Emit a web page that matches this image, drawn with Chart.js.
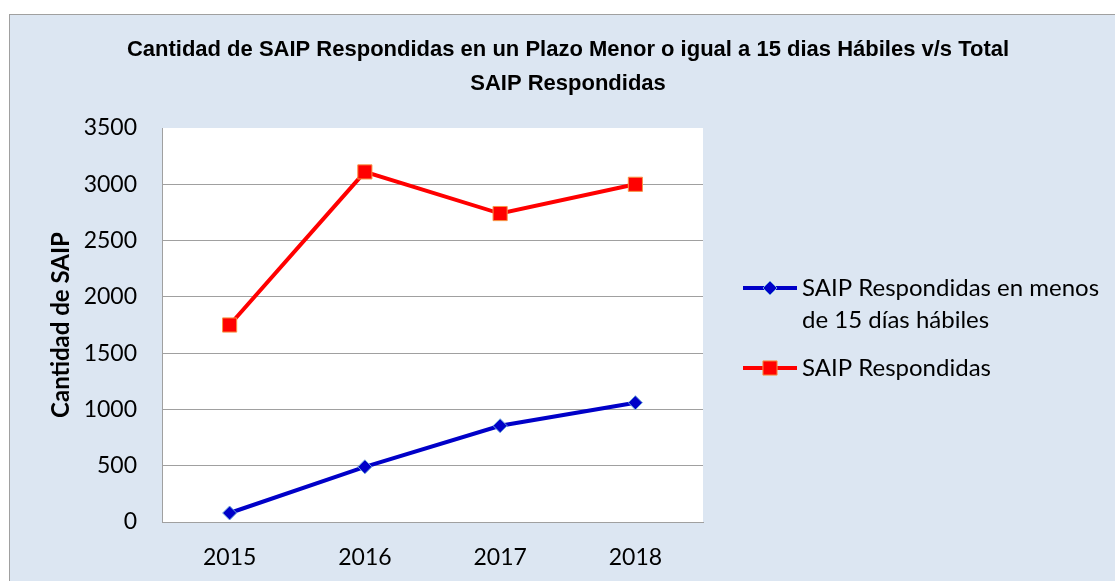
<!DOCTYPE html>
<html>
<head>
<meta charset="utf-8">
<script src="https://cdn.jsdelivr.net/npm/chart.js@4/dist/chart.umd.min.js"></script>
<style>
  html, body { margin: 0; padding: 0; background: #ffffff; }
  #wrap { position: relative; width: 1115px; height: 581px; }
</style>
</head>
<body>
<div id="wrap"><canvas id="Graph" width="1115" height="581"></canvas></div>
<script>
const years = ["2015", "2016", "2017", "2018"];
const respondidasMenos15 = [80, 490, 855, 1060];
const respondidasTotal = [1750, 3110, 2740, 3000];
const seriesNames = [
    ["SAIP Respondidas en menos", "de 15 días hábiles"],
    ["SAIP Respondidas"]
];
const titleLines = [
    "Cantidad de SAIP Respondidas en un Plazo Menor o igual a 15 dias Hábiles v/s Total",
    "SAIP Respondidas"
];
const yTicks = [0, 500, 1000, 1500, 2000, 2500, 3000, 3500];

const bgBlue = "#dce6f2";
const gridGray = "#a0a0a0";
const tickFont = "Lato, 'Open Sans', sans-serif";

// background, frame, white plot area and the title
const frame = {
    id: "frame",
    beforeDraw(chart) {
        const ctx = chart.ctx;
        const a = chart.chartArea;
        ctx.save();
        ctx.fillStyle = "#ffffff";
        ctx.fillRect(0, 0, chart.width, chart.height);
        ctx.fillStyle = bgBlue;
        ctx.fillRect(9, 14, chart.width, chart.height);
        ctx.strokeStyle = gridGray;
        ctx.lineWidth = 1;
        ctx.strokeRect(9.5, 14.5, chart.width + 10, chart.height + 10);
        ctx.fillStyle = "#ffffff";
        ctx.fillRect(a.left, a.top, a.right - a.left, a.bottom - a.top);

        ctx.fillStyle = "#000000";
        ctx.font = "bold 22px 'Liberation Sans Narrow', 'Liberation Sans', Arial, sans-serif";
        ctx.textAlign = "center";
        ctx.textBaseline = "middle";
        titleLines.forEach((t, i) => ctx.fillText(t, 568, 50 + i * 34));
        ctx.restore();
    }
};

// legend on the right, with wrapped text
const sideLegend = {
    id: "sideLegend",
    afterDraw(chart) {
        const ctx = chart.ctx;
        const rows = [288, 368];
        ctx.save();
        chart.data.datasets.forEach((ds, i) => {
            const y = rows[i];
            ctx.strokeStyle = ds.borderColor;
            ctx.lineWidth = 4;
            ctx.beginPath();
            ctx.moveTo(743, y);
            ctx.lineTo(797, y);
            ctx.stroke();
            ctx.fillStyle = ds.pointBackgroundColor;
            ctx.strokeStyle = ds.pointBorderColor;
            ctx.lineWidth = 1;
            Chart.helpers.drawPoint(ctx, {
                pointStyle: ds.pointStyle,
                radius: ds.pointRadius,
                borderWidth: 1,
                rotation: 0
            }, 770, y);
            ctx.fillStyle = "#000000";
            ctx.font = "24px " + tickFont;
            ctx.textAlign = "left";
            ctx.textBaseline = "middle";
            seriesNames[i].forEach((line, j) => ctx.fillText(line, 802, y + j * 32));
        });
        ctx.restore();
    }
};

new Chart("Graph", {
    type: "line",
    data: {
        labels: years,
        datasets: [
            {
                label: seriesNames[0].join(" "),
                data: respondidasMenos15,
                borderColor: "#0000c8",
                borderWidth: 4,
                pointStyle: "rectRot",
                pointRadius: 7,
                pointBackgroundColor: "#0000c8",
                pointBorderColor: "#6fa8dc",
                pointBorderWidth: 1,
                tension: 0
            },
            {
                label: seriesNames[1].join(" "),
                data: respondidasTotal,
                borderColor: "#ff0000",
                borderWidth: 4,
                pointStyle: "rect",
                pointRadius: 10,
                pointBackgroundColor: "#ff0000",
                pointBorderColor: "#f79646",
                pointBorderWidth: 1,
                tension: 0
            }
        ]
    },
    options: {
        responsive: false,
        animation: false,
        layout: { padding: { top: 128, right: 412, bottom: 0, left: 0 } },
        plugins: {
            legend: { display: false },
            title: { display: false },
            tooltip: { enabled: false }
        },
        scales: {
            x: {
                offset: true,
                grid: { display: false, drawTicks: false },
                border: { color: gridGray, width: 1 },
                ticks: { color: "#000000", font: { family: tickFont, size: 23 }, padding: 22 },
                afterFit(s) { s.height = 59; }
            },
            y: {
                min: 0,
                max: 3500,
                afterBuildTicks(s) { s.ticks = yTicks.map(v => ({ value: v })); },
                grid: {
                    color: ctx => ctx.tick && ctx.tick.value === 3500 ? "rgba(0,0,0,0)" : gridGray,
                    drawTicks: false
                },
                border: { color: gridGray, width: 1 },
                ticks: {
                    color: "#000000",
                    font: { family: tickFont, size: 23 },
                    padding: 25,
                    callback: v => String(v)
                },
                title: {
                    display: true,
                    text: "Cantidad de SAIP",
                    color: "#000000",
                    font: { family: tickFont, size: 24, weight: "bold" },
                    padding: { top: 47, bottom: 0 }
                },
                afterFit(s) { s.width = 162; }
            }
        }
    },
    plugins: [frame, sideLegend]
});
</script>
</body>
</html>
